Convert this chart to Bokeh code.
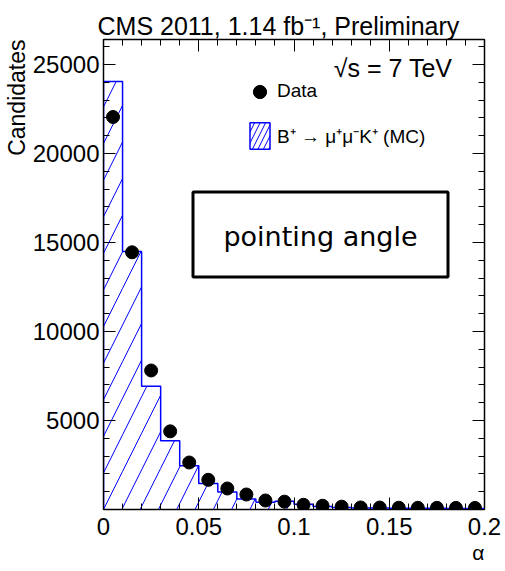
import math
import numpy as np
from bokeh.plotting import figure
from bokeh.models import (Range1d, FixedTicker, NumeralTickFormatter, LinearAxis, Label, Title,
                          BoxAnnotation, Legend, LegendItem, ColumnDataSource)
from bokeh.embed import file_html
from bokeh.resources import INLINE

# ---------------- data ----------------
bin_edges = [0.00, 0.01, 0.02, 0.03, 0.04, 0.05, 0.06, 0.07, 0.08, 0.09, 0.10,
             0.11, 0.12, 0.13, 0.14, 0.15, 0.16, 0.17, 0.18, 0.19, 0.20]
mc_counts = [24050, 14500, 6920, 3860, 2460, 1460, 990, 590, 410, 466,
             300, 170, 110, 90, 80, 75, 70, 65, 60, 55]
data_counts = [22050, 14450, 7810, 4390, 2640, 1668, 1180, 843, 506, 440,
               264, 210, 160, 115, 110, 100, 95, 92, 90, 88]
x_ticks = [0.0, 0.05, 0.10, 0.15, 0.20]
x_minor = [round(0.01 * i, 2) for i in range(21)]
y_ticks = [5000, 10000, 15000, 20000, 25000]
y_minor = [1000 * i for i in range(27)]

title_text = "CMS 2011, 1.14 fb\u207b\u00b9, Preliminary"
energy_text = "\u221as = 7 TeV"
box_text = "pointing angle"
y_title = "Candidates"
x_title = "\u03b1"
leg_data = "Data"
leg_mc = "B\u207a \u2192 \u03bc\u207a\u03bc\u207bK\u207a (MC)"

FONT = "Liberation Sans"

# ---------------- layout ----------------
W, H = 505, 571
BL, BR, BT, BB = 103, 21, 39, 62
FW, FH = W - BL - BR, H - BT - BB
XMAX = 0.2
YMAX = 26404

edges = np.array(bin_edges)
left = edges[:-1]
right = edges[1:]
centers = 0.5 * (left + right)

p = figure(width=W, height=H, x_range=Range1d(0, XMAX), y_range=Range1d(0, YMAX),
           output_backend="svg", toolbar_location=None,
           min_border_left=BL, min_border_right=BR, min_border_top=BT, min_border_bottom=BB)
p.xgrid.visible = False
p.ygrid.visible = False
p.background_fill_color = "white"
p.border_fill_color = "white"
p.outline_line_color = "black"
p.outline_line_width = 1.5

# title (top)
p.title.text = title_text
p.title.align = "left"
p.title.offset = -6
p.title.standoff = 0
p.title.text_font = FONT
p.title.text_font_size = "25px"
p.title.text_font_style = "normal"
p.title.text_color = "black"


def style_axis(ax, ticks, minor, show_labels):
    ax.ticker = FixedTicker(ticks=ticks, minor_ticks=minor)
    ax.major_tick_in = 12
    ax.major_tick_out = 0
    ax.minor_tick_in = 6
    ax.minor_tick_out = 0
    ax.major_tick_line_color = "black"
    ax.minor_tick_line_color = "black"
    ax.axis_line_color = "black"
    ax.major_label_text_font = FONT
    ax.major_label_text_color = "black"
    if show_labels:
        ax.major_label_text_font_size = "24px"
    else:
        ax.major_label_text_font_size = "0px"
        ax.major_label_standoff = 0


xa = p.xaxis[0]
style_axis(xa, x_ticks, x_minor, True)
xa.formatter = NumeralTickFormatter(format="0.[00]")
xa.major_label_standoff = 8
ya = p.yaxis[0]
style_axis(ya, y_ticks, y_minor, True)
ya.major_label_standoff = 4

top_ax = LinearAxis()
style_axis(top_ax, x_ticks, x_minor, False)
p.add_layout(top_ax, "above")
right_ax = LinearAxis()
style_axis(right_ax, y_ticks, y_minor, False)
p.add_layout(right_ax, "right")

# axis titles as side-panel titles (ROOT style: at the far end of each axis)
p.add_layout(Title(text=y_title, align="right", standoff=0, text_font=FONT,
                   text_font_size="23px", text_font_style="normal", text_color="black"), "left")
p.add_layout(Title(text=x_title, align="right", standoff=3, text_font=FONT,
                   text_font_size="21px", text_font_style="normal", text_color="black"), "below")

# ---------------- histogram (MC): steep hatch lines clipped to each bin ----------------
px_per_x = FW / XMAX
px_per_y = FH / YMAX
RISE = 2.0          # hatch lines rise 2 px per 1 px to the right
SPACING_PX = 18.3   # horizontal distance between hatch lines
k = px_per_y / (RISE * px_per_x)      # data dx per data dy along a hatch line
sp = SPACING_PX / px_per_x
hx0, hy0, hx1, hy1 = [], [], [], []
for l, r, t in zip(left, right, mc_counts):
    j0 = math.floor((l - k * t) / sp) - 1
    j1 = math.ceil(r / sp) + 1
    for j in range(j0, j1 + 1):
        c = j * sp
        ylo = max(0.0, (l - c) / k)
        yhi = min(float(t), (r - c) / k)
        if yhi > ylo:
            hx0.append(c + k * ylo)
            hy0.append(ylo)
            hx1.append(c + k * yhi)
            hy1.append(yhi)
p.segment(hx0, hy0, hx1, hy1, line_color="blue", line_width=1)

src = ColumnDataSource(dict(left=left, right=right, top=mc_counts, bottom=[0] * len(mc_counts)))
leg_quad = p.quad(left="left", right="right", top="top", bottom="bottom", source=src,
                  fill_alpha=0, line_color="blue", line_width=1.5, hatch_pattern="/",
                  hatch_color="blue", hatch_weight=1, hatch_scale=11, visible=False)
step_x = np.concatenate([[edges[0]], edges])
step_y = np.concatenate([[0], mc_counts, [mc_counts[-1]]])
p.step(step_x, step_y, mode="after", line_color="blue", line_width=1.5)

# ---------------- data points ----------------
dots = p.scatter(centers, data_counts, size=13, color="black")

# ---------------- legends ----------------
leg1 = Legend(items=[LegendItem(label=leg_data, renderers=[dots])], location=(140, 401.5),
              glyph_width=33, glyph_height=33, label_standoff=1, padding=0, margin=0, spacing=0,
              border_line_alpha=0, background_fill_alpha=0, label_text_font=FONT,
              label_text_font_size="19px", label_text_color="black")
leg2 = Legend(items=[LegendItem(label=leg_mc, renderers=[leg_quad])], location=(144, 357),
              glyph_width=25, glyph_height=33, label_standoff=5, padding=0, margin=0, spacing=0,
              border_line_alpha=0, background_fill_alpha=0, label_text_font=FONT,
              label_text_font_size="19px", label_text_color="black")
p.add_layout(leg1, "center")
p.add_layout(leg2, "center")


# pixel -> data helpers for annotation placement
def dx(px):
    return (px - BL) / px_per_x


def dy(py):
    return (BT + FH - py) / px_per_y


# ---------------- text box ----------------
p.add_layout(BoxAnnotation(left=dx(192.5), right=dx(447.5), top=dy(191.5), bottom=dy(276.5),
                           fill_color="white", fill_alpha=1, line_color="black",
                           line_alpha=1, line_width=3))
p.add_layout(Label(x=dx(320), y=dy(236), text=box_text, text_align="center",
                   text_baseline="alphabetic", text_font="DejaVu Sans",
                   text_font_size="27px", text_color="black"))

p.add_layout(Label(x=dx(452), y=dy(67), text=energy_text, text_align="right",
                   text_baseline="alphabetic", text_font=FONT, text_font_size="25px",
                   text_color="black"))

open("out.html", "w").write(file_html(p, INLINE))
